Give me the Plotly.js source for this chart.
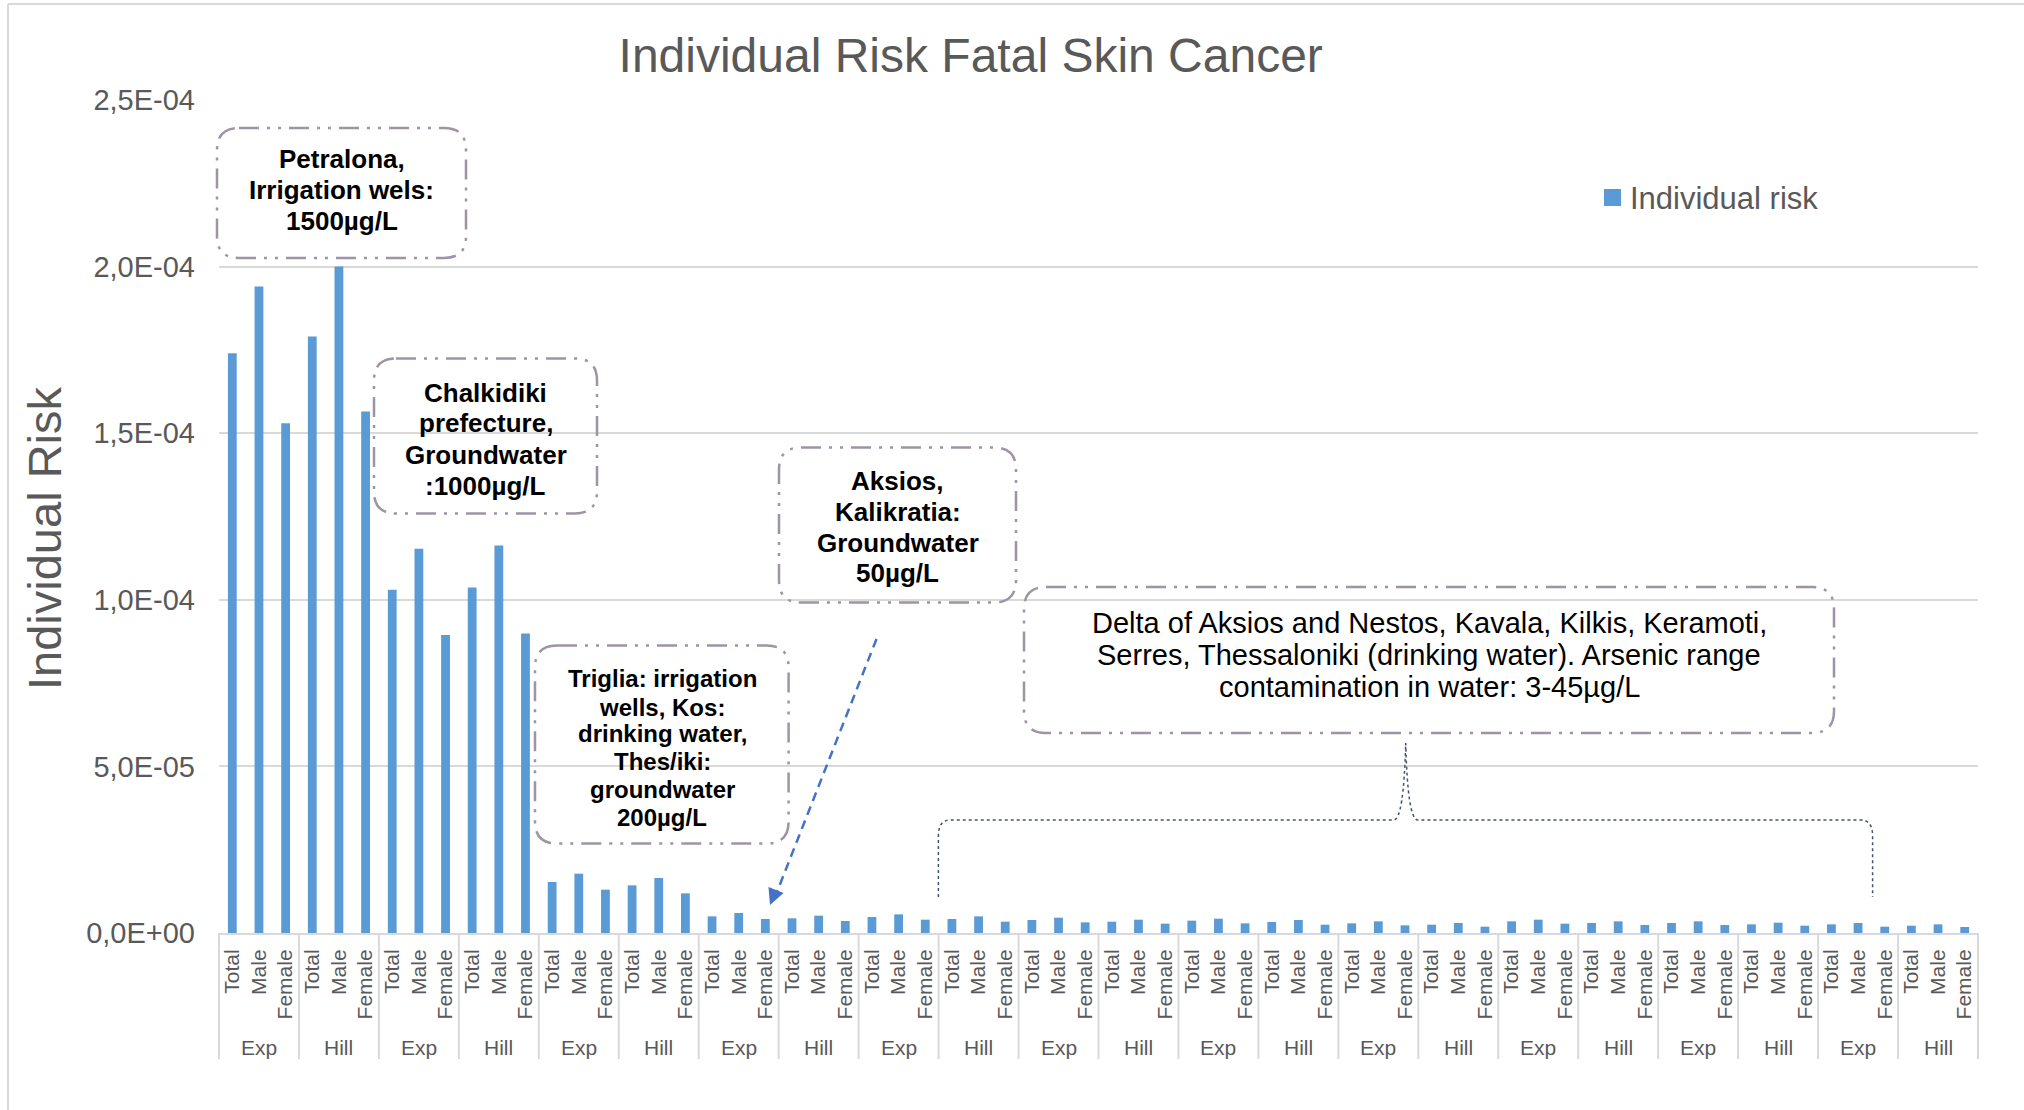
<!DOCTYPE html>
<html>
<head>
<meta charset="utf-8">
<script src="https://cdn.plot.ly/plotly-3.0.1.min.js"></script>
<style>
  html, body { margin: 0; padding: 0; background: #ffffff; }
  #chart { width: 2024px; height: 1110px; }
</style>
</head>
<body>
<div id="chart"></div>
<script>
// ---------------- DATA ----------------
const chartTitle = "Individual Risk Fatal Skin Cancer";
const yAxisTitle = "Individual Risk";
const seriesName = "Individual risk";

const groupLabels = ["Exp","Hill","Exp","Hill","Exp","Hill","Exp","Hill","Exp","Hill","Exp",
                     "Hill","Exp","Hill","Exp","Hill","Exp","Hill","Exp","Hill","Exp","Hill"];
const subLabels = ["Total","Male","Female"];

// values per group: [Total, Male, Female]
const totalRisk  = [1.74e-4, 1.79e-4, 1.03e-4, 1.037e-4, 1.53e-5, 1.43e-5, 5.0e-6, 4.4e-6, 4.8e-6, 4.2e-6, 3.9e-6,
                    3.4e-6, 3.7e-6, 3.3e-6, 2.9e-6, 2.5e-6, 3.5e-6, 3.0e-6, 3.0e-6, 2.6e-6, 2.6e-6, 2.2e-6];
const maleRisk   = [1.94e-4, 2.00e-4, 1.153e-4, 1.163e-4, 1.78e-5, 1.65e-5, 6.0e-6, 5.2e-6, 5.6e-6, 5.0e-6, 4.6e-6,
                    4.0e-6, 4.3e-6, 3.9e-6, 3.5e-6, 3.0e-6, 4.0e-6, 3.5e-6, 3.5e-6, 3.1e-6, 3.0e-6, 2.6e-6];
const femaleRisk = [1.53e-4, 1.565e-4, 8.94e-5, 8.99e-5, 1.30e-5, 1.19e-5, 4.2e-6, 3.6e-6, 4.0e-6, 3.4e-6, 3.2e-6,
                    2.8e-6, 2.9e-6, 2.5e-6, 2.3e-6, 1.9e-6, 2.8e-6, 2.4e-6, 2.4e-6, 2.2e-6, 1.9e-6, 1.8e-6];

const yTickValues = [0, 5e-5, 1e-4, 1.5e-4, 2e-4, 2.5e-4];
const yTickLabels = ["0,0E+00","5,0E-05","1,0E-04","1,5E-04","2,0E-04","2,5E-04"];

const noteBoxes = [
  {lines: ["Petralona,","Irrigation wels:","1500µg/L"], bold: true, size: 26},
  {lines: ["Chalkidiki","prefecture,","Groundwater",":1000µg/L"], bold: true, size: 26},
  {lines: ["Aksios,","Kalikratia:","Groundwater","50µg/L"], bold: true, size: 26},
  {lines: ["Triglia: irrigation","wells, Kos:","drinking water,","Thes/iki:","groundwater","200µg/L"], bold: true, size: 24},
  {lines: ["Delta of Aksios and Nestos, Kavala, Kilkis, Keramoti,",
           "Serres, Thessaloniki (drinking water). Arsenic range",
           "contamination in water: 3-45µg/L"], bold: false, size: 29}
];

// ---------------- BUILD ----------------
const xIdx = [], yVals = [], tickText = [];
for (let g = 0; g < groupLabels.length; g++) {
  const vals = [totalRisk[g], maleRisk[g], femaleRisk[g]];
  for (let s = 0; s < subLabels.length; s++) {
    xIdx.push(xIdx.length);
    yVals.push(vals[s]);
    tickText.push(subLabels[s]);
  }
}
const nCat = xIdx.length;
const barColor = "#5b9bd5";

// layout geometry (pixels)
const W = 2024, H = 1110;
const mL = 219, mR = 46, mT = 100, mB = 177;
const plotW = W - mL - mR, plotH = H - mT - mB;
const P = px => (px - mL) / plotW;          // pixel x -> paper x
const Q = py => (H - mB - py) / plotH;      // pixel y -> paper y

function rrect(x0, y0, x1, y1, r) {
  const rx = r / plotW, ry = r / plotH;
  const a = P(x0), b = P(x1), t = Q(y0), u = Q(y1);
  return `M${a + rx},${t} L${b - rx},${t} Q${b},${t} ${b},${t - ry} L${b},${u + ry} Q${b},${u} ${b - rx},${u} ` +
         `L${a + rx},${u} Q${a},${u} ${a},${u + ry} L${a},${t - ry} Q${a},${t} ${a + rx},${t} Z`;
}

// box placements (pixels): rect and line centres
const boxGeo = [
  {rect: [217, 128, 466, 258], cx: 341.5, ly: [158.7, 189.7, 220.7]},
  {rect: [374, 358.5, 597, 513.5], cx: 485.5, ly: [393, 423, 455, 486]},
  {rect: [779, 447.5, 1016, 602.5], cx: 897.5, ly: [480.8, 511.8, 542.8, 572.6]},
  {rect: [535, 645.5, 788.6, 843.6], cx: 662, ly: [678.8, 707, 733.4, 761.5, 789, 817.8]},
  {rect: [1024, 587, 1834, 733], cx: 1429, ly: [623.3, 655, 686.7]}
];

const fontFam = "Liberation Sans, Arial, sans-serif";
const grey = "#595959";
const shapes = [];
const annotations = [];

// chart border (left and top)
shapes.push({type: "line", xref: "paper", yref: "paper", x0: P(8), x1: P(8), y0: Q(4), y1: Q(1112),
             line: {color: "#d9d9d9", width: 2}});
shapes.push({type: "line", xref: "paper", yref: "paper", x0: P(8), x1: P(2030), y0: Q(4), y1: Q(4),
             line: {color: "#d9d9d9", width: 2}});

// group separators and group labels
for (let g = 0; g <= groupLabels.length; g++) {
  const xp = (g * 3) / nCat;
  shapes.push({type: "line", xref: "paper", yref: "paper", x0: xp, x1: xp, y0: 0, y1: Q(1059),
               line: {color: "#d9d9d9", width: 2}});
}
groupLabels.forEach((lab, g) => {
  annotations.push({text: lab, xref: "paper", yref: "paper", x: (g * 3 + 1.5) / nCat, y: Q(1047),
                    xanchor: "center", yanchor: "middle", showarrow: false,
                    font: {family: fontFam, size: 21, color: grey}});
});

// note boxes
const boxDash = "20px,8px,3px,8px,3px,8px";
noteBoxes.forEach((nb, i) => {
  const gm = boxGeo[i];
  shapes.push({type: "path", xref: "paper", yref: "paper",
               path: rrect(gm.rect[0], gm.rect[1], gm.rect[2], gm.rect[3], 22),
               line: {color: "#9e94a5", width: 2.5, dash: boxDash}, fillcolor: "rgba(255,255,255,0)"});
  nb.lines.forEach((ln, k) => {
    annotations.push({text: nb.bold ? "<b>" + ln + "</b>" : ln, xref: "paper", yref: "paper",
                      x: P(gm.cx), y: Q(gm.ly[k]), xanchor: "center", yanchor: "middle", showarrow: false,
                      font: {family: fontFam, size: nb.size, color: "#000000"}});
  });
});

// dashed arrow from Aksios box
shapes.push({type: "line", xref: "paper", yref: "paper", x0: P(876.5), y0: Q(639), x1: P(775), y1: Q(897),
             line: {color: "#4472c4", width: 2.5, dash: "9px,6px"}});
annotations.push({text: "", xref: "paper", yref: "paper", x: P(770), y: Q(905), ax: 6, ay: -15,
                  showarrow: true, arrowhead: 2, arrowsize: 1.3, arrowwidth: 2.5, arrowcolor: "#4472c4",
                  standoff: 0});

// curly bracket under the Delta box
(function () {
  const yl = 820, yb = 897, yp = 743, xl = 938.4, xr = 1872.6, xc = 1405.7;
  const path = `M${P(xl)},${Q(yb)} L${P(xl)},${Q(yl + 16)} Q${P(xl)},${Q(yl)} ${P(xl + 12)},${Q(yl)} ` +
               `L${P(xc - 12)},${Q(yl)} Q${P(xc - 2)},${Q(yl)} ${P(xc)},${Q(yp)} ` +
               `Q${P(xc + 2)},${Q(yl)} ${P(xc + 12)},${Q(yl)} L${P(xr - 12)},${Q(yl)} ` +
               `Q${P(xr)},${Q(yl)} ${P(xr)},${Q(yl + 16)} L${P(xr)},${Q(yb)}`;
  shapes.push({type: "path", xref: "paper", yref: "paper", path: path,
               line: {color: "#44546a", width: 1.5, dash: "dot"}});
})();

// legend (drawn as key square + label to match the reference key size)
shapes.push({type: "rect", xref: "paper", yref: "paper", x0: P(1604), x1: P(1621), y0: Q(206), y1: Q(189),
             fillcolor: barColor, line: {width: 0}});
annotations.push({text: seriesName, xref: "paper", yref: "paper", x: P(1628), y: Q(198),
                  xanchor: "left", yanchor: "middle", showarrow: false,
                  font: {family: fontFam, size: 31, color: grey}});

// y axis title
annotations.push({text: yAxisTitle, xref: "paper", yref: "paper", x: P(44), y: Q(538),
                  xanchor: "center", yanchor: "middle", textangle: -90, showarrow: false,
                  font: {family: fontFam, size: 47, color: grey}});

const trace = {
  type: "bar", x: xIdx, y: yVals, name: seriesName,
  marker: {color: barColor}, hoverinfo: "skip", showlegend: false
};

const layout = {
  width: W, height: H,
  margin: {l: mL, r: mR, t: mT, b: mB, pad: 0},
  paper_bgcolor: "#ffffff", plot_bgcolor: "#ffffff",
  font: {family: fontFam, color: grey},
  title: {text: chartTitle, xref: "container", yref: "container", x: 970.7 / W, y: 1 - 55 / H,
          xanchor: "center", yanchor: "middle", font: {family: fontFam, size: 48, color: grey}},
  bargap: 0.67,
  showlegend: false,
  xaxis: {range: [-0.5, nCat - 0.5], tickmode: "array", tickvals: xIdx, ticktext: tickText,
          tickangle: -90, tickfont: {family: fontFam, size: 21, color: grey}, ticks: "",
          showgrid: false, zeroline: false, showline: true, linecolor: "#d9d9d9", linewidth: 2,
          ticklabelstandoff: 6, fixedrange: true},
  yaxis: {range: [0, 2.5e-4], tickmode: "array", tickvals: yTickValues, ticktext: yTickLabels,
          tickfont: {family: fontFam, size: 29, color: grey}, ticks: "",
          showgrid: true, gridcolor: "#d9d9d9", gridwidth: 2, zeroline: false, showline: false,
          ticklabelstandoff: 23, fixedrange: true},
  shapes: shapes,
  annotations: annotations
};

Plotly.newPlot("chart", [trace], layout, {displayModeBar: false, staticPlot: true});
</script>
</body>
</html>
